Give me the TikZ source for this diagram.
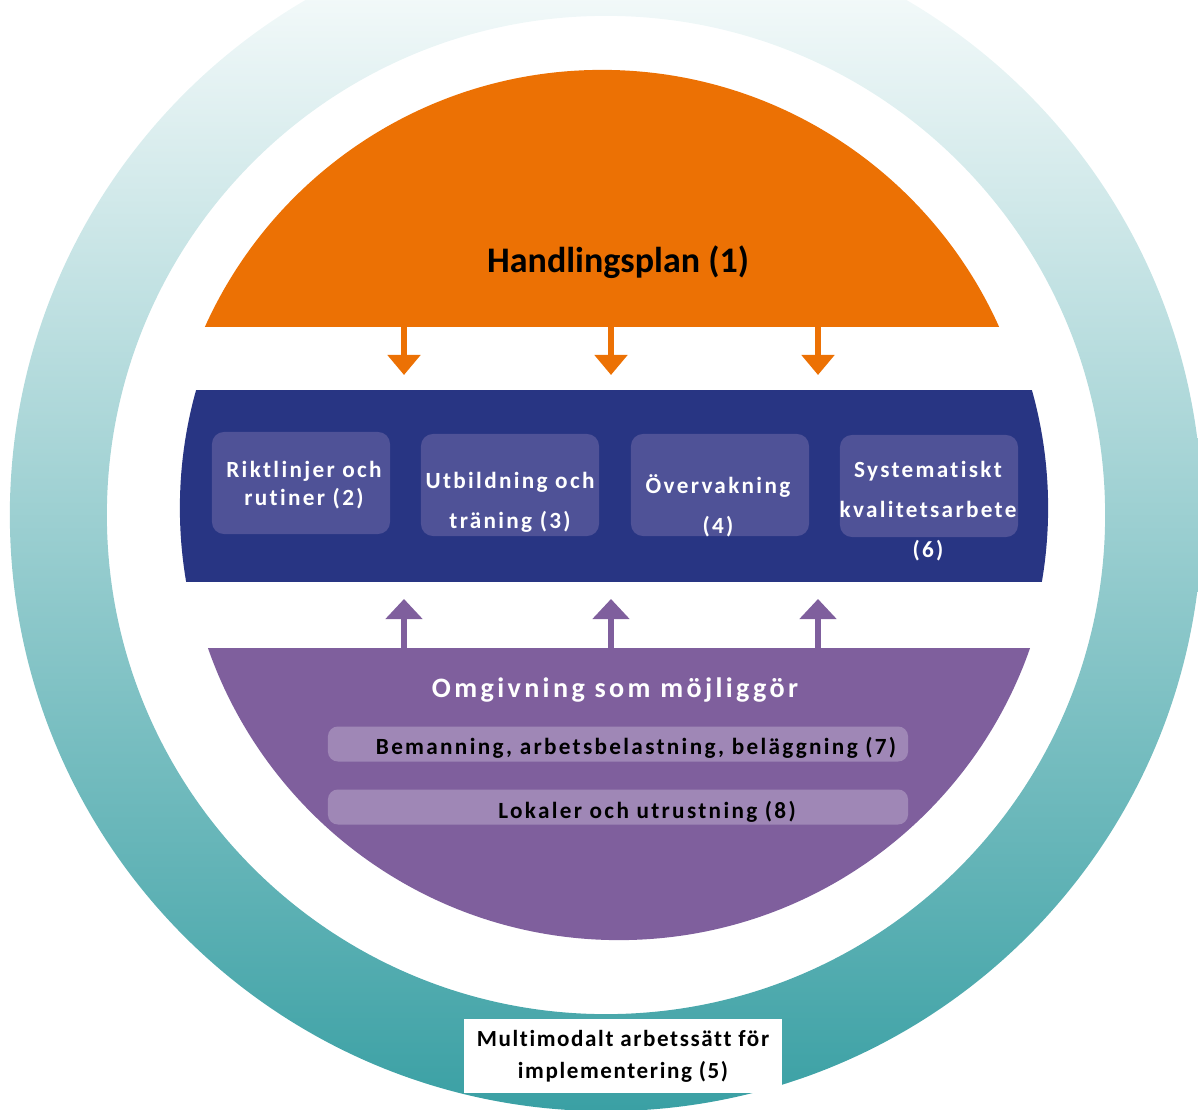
\documentclass[tikz,border=0pt]{standalone}
\usepackage{fontspec}
\setmainfont{Carlito}[Ligatures=NoCommon]
\newfontfamily\wide{Carlito}[LetterSpace=10, Ligatures=NoCommon]
\newfontfamily\wider{Carlito}[LetterSpace=12, Ligatures=NoCommon]
\newfontfamily\lesswide{Carlito}[LetterSpace=7, Ligatures=NoCommon]
\usetikzlibrary{arrows.meta,positioning}
\definecolor{planorange}{HTML}{EC7104}
\definecolor{bandblue}{HTML}{283583}
\definecolor{boxblue}{HTML}{4F5297}
\definecolor{envpurple}{HTML}{7F5F9D}
\definecolor{barpurple}{HTML}{9F87B6}
\definecolor{ringteal}{HTML}{3AA0A4}

\begin{document}
\begin{tikzpicture}[x=0.025cm, y=-0.025cm,
part/.style={rounded corners=0.3cm, fill=boxblue, minimum width=4.45cm, minimum height=2.55cm},
parttext/.style={text=white, align=center, font=\wide\bfseries\fontsize{16.5}{28.5}\selectfont},
bar/.style={rounded corners=0.25cm, fill=barpurple, minimum width=14.5cm, minimum height=0.875cm},
bartext/.style={font=\wide\bfseries\fontsize{16.5}{20}\selectfont},
down/.style={draw=planorange, line width=4.3pt, -{Triangle[width=0.8cm, length=0.5cm]}},
up/.style={draw=envpurple, line width=4.3pt, -{Triangle[width=0.9cm, length=0.5cm]}}
]
\useasboundingbox (0,0) rectangle (1198,1110);
%Ring
\begin{scope}
\clip (0,0) rectangle (1198,1110);
\shade[top color=white, bottom color=ringteal, even odd rule]
  (606,515) circle (14.9cm) (606,515) circle (12.475cm);
\end{scope}
%Disk
\begin{scope}
\clip (602,505) circle (10.875cm);
\fill[planorange] (0,0) rectangle (1198,327);
\end{scope}
\begin{scope}
\clip (614,508) circle (10.85cm);
\fill[bandblue] (0,390) rectangle (1198,582);
\end{scope}
\begin{scope}
\clip (619,505) circle (10.875cm);
\fill[envpurple] (0,648) rectangle (1198,1110);
\end{scope}
%Nodes
\node[font=\bfseries\fontsize{25.6}{30}\selectfont] (plan) at (618,262) {Handlingsplan (1)};
\node[part] (p2) at (301,483) {};
\node[part] (p3) at (510,485) {};
\node[part] (p4) at (720,485) {};
\node[part] (p6) at (929,486) {};
\node[parttext, font=\wide\bfseries\fontsize{16.5}{19.9}\selectfont] (t2) at (304,485) {Riktlinjer och\\rutiner (2)};
\node[parttext] (t3) at (510,502) {Utbildning och\\träning (3)};
\node[parttext] (t4) at (718,506) {Övervakning\\(4)};
\node[parttext] (t6) at (928,511) {Systematiskt\\kvalitetsarbete\\(6)};
\node[text=white, font=\wider\bfseries\fontsize{20}{24}\selectfont] (env) at (615,690) {Omgivning som möjliggör};
\node[bar] (bar7) at (618,744) {};
\node[bar] (bar8) at (618,807) {};
\node[bartext] (staff) at (636,748) {Bemanning, arbetsbelastning, beläggning (7)};
\node[bartext] (rooms) at (647,812) {Lokaler och utrustning (8)};
\node[fill=white, minimum width=7.925cm, minimum height=1.825cm, align=center,
  font=\lesswide\bfseries\fontsize{16.4}{22.8}\selectfont] (mm) at (623,1056) {Multimodalt arbetssätt för\\implementering (5)};
%Arrows
\foreach \i/\x in {1/404, 2/611, 3/818} {
  \coordinate (os\i) at (\x,327);
  \coordinate (oe\i) at (\x,375);
  \draw[down] (os\i) -- (oe\i);
  \coordinate (us\i) at (\x,668);
  \coordinate (ue\i) at (\x,599);
  \draw[up] (us\i) -- (ue\i);
}
\end{tikzpicture}
\end{document}
